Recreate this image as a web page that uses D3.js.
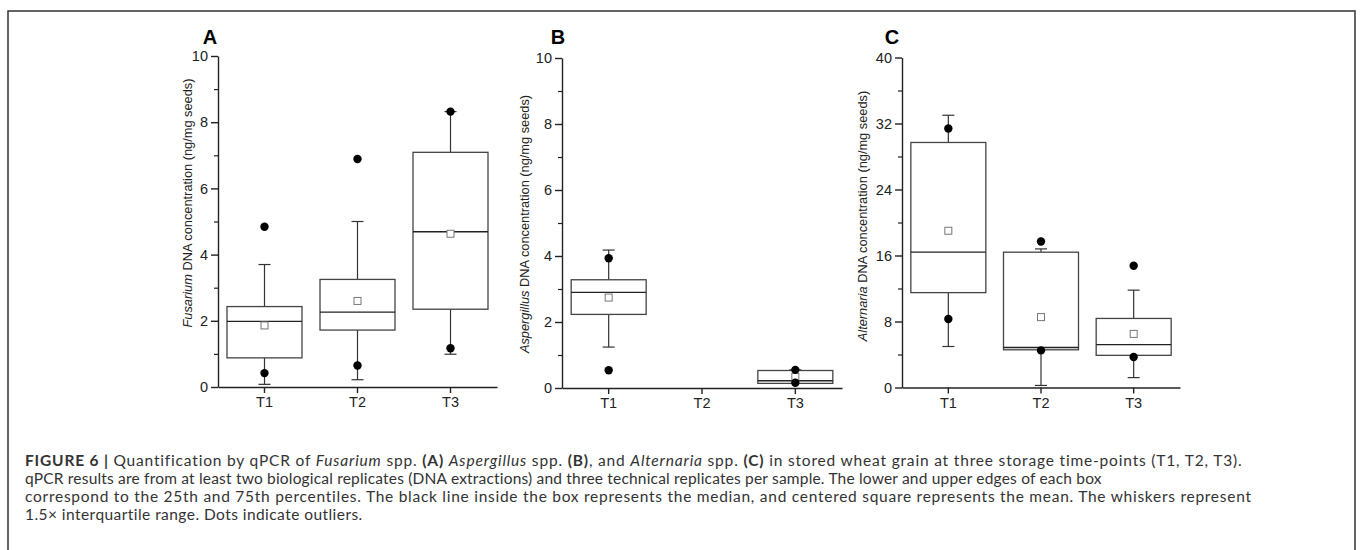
<!DOCTYPE html>
<html>
<head>
<meta charset="utf-8">
<script src="https://cdn.jsdelivr.net/npm/d3@7"></script>
<style>
  body { margin: 0; background: #fff; }
  svg { display: block; }
</style>
</head>
<body>
<svg id="fig" width="1360" height="550"></svg>
<script>
// categories (storage time-points)
const times = ["T1", "T2", "T3"];

// box stats: q1, median, q3, mean, whisker lo/hi, outliers
const fusarium = [
    {t: "T1", q1: 0.88, med: 1.98, q3: 2.43, mean: 1.86, lo: 0.08, hi: 3.70, out: [4.84, 0.42]},
    {t: "T2", q1: 1.72, med: 2.26, q3: 3.25, mean: 2.60, lo: 0.22, hi: 5.00, out: [6.89, 0.65]},
    {t: "T3", q1: 2.35, med: 4.69, q3: 7.09, mean: 4.63, lo: 0.99, hi: 8.32, out: [8.32, 1.17]}
];
const aspergillus = [
    {t: "T1", q1: 2.23, med: 2.90, q3: 3.28, mean: 2.74, lo: 1.24, hi: 4.18, out: [3.93, 0.54]},
    {t: "T3", q1: 0.14, med: 0.22, q3: 0.53, mean: 0.34, lo: 0.14, hi: 0.55, out: [0.55, 0.16]}
];
const alternaria = [
    {t: "T1", q1: 11.5, med: 16.4, q3: 29.7, mean: 19.0, lo: 4.97, hi: 33.0, out: [31.4, 8.3]},
    {t: "T2", q1: 4.57, med: 4.85, q3: 16.4, mean: 8.53, lo: 0.25, hi: 16.8, out: [17.7, 4.5]},
    {t: "T3", q1: 3.90, med: 5.20, q3: 8.37, mean: 6.50, lo: 1.20, hi: 11.8, out: [14.75, 3.7]}
];

const ticksA = [0, 2, 4, 6, 8, 10];
const ticksC = [0, 8, 16, 24, 32, 40];

const captionLines = [
    [["FIGURE 6 | ", "b"], ["Quantification by qPCR of "], ["Fusarium", "i"], [" spp. "], ["(A)", "b"], [" "], ["Aspergillus", "i"], [" spp. "], ["(B)", "b"], [", and "], ["Alternaria", "i"], [" spp. "], ["(C)", "b"], [" in stored wheat grain at three storage time-points (T1, T2, T3)."]],
    [["qPCR results are from at least two biological replicates (DNA extractions) and three technical replicates per sample. The lower and upper edges of each box"]],
    [["correspond to the 25th and 75th percentiles. The black line inside the box represents the median, and centered square represents the mean. The whiskers represent"]],
    [["1.5\u00d7 interquartile range. Dots indicate outliers."]]
];
// right end of each caption line in the reference
const captionEnds = [1243, 1102, 1252, 363];

// layout of the three panels
const panels = [
    {letter: "A", genus: "Fusarium", data: fusarium, ticks: ticksA, x0: 218, x1: 497, yTop: 56, yBot: 387, letterX: 210, titleX: 192, titleY: 203},
    {letter: "B", genus: "Aspergillus", data: aspergillus, ticks: ticksA, x0: 562, x1: 842, yTop: 58, yBot: 388, letterX: 558, titleX: 529, titleY: 224},
    {letter: "C", genus: "Alternaria", data: alternaria, ticks: ticksC, x0: 902, x1: 1180, yTop: 57.5, yBot: 387.5, letterX: 892, titleX: 867, titleY: 216}
];

const sans = "'Liberation Sans', Arial, sans-serif";
const svg = d3.select("#fig");

// outer frame
svg.append("rect")
    .attr("x", 8).attr("y", 11)
    .attr("width", 1347).attr("height", 560)
    .attr("fill", "none")
    .attr("stroke", "#333")
    .attr("stroke-width", 1.5);

function styleAxis(a) {
    a.attr("font-family", sans).attr("font-size", 14.5);
    a.selectAll("text").attr("fill", "#222");
    a.selectAll("line,path").attr("stroke", "#222").attr("stroke-width", 1.4);
}

for(const p of panels) {
    const g = svg.append("g");
    const max = p.ticks[p.ticks.length - 1];
    const step = p.ticks[1] - p.ticks[0];
    const y = d3.scaleLinear().domain([0, max]).range([p.yBot, p.yTop]);
    const x = d3.scaleBand().domain(times).range([p.x0, p.x1]);
    const boxW = 75;
    const capW = 12;

    const minor = p.ticks.slice(0, -1).map(v => v + step / 2);
    g.append("g")
        .attr("transform", `translate(${p.x0},0)`)
        .call(d3.axisLeft(y).tickValues(minor).tickSize(4).tickFormat(""))
        .call(a => a.select(".domain").remove())
        .selectAll("line").attr("stroke", "#222").attr("stroke-width", 1.2);

    g.append("g")
        .attr("transform", `translate(${p.x0},0)`)
        .call(d3.axisLeft(y).tickValues(p.ticks).tickSize(7).tickSizeOuter(0).tickPadding(3))
        .call(styleAxis);

    g.append("g")
        .attr("transform", `translate(0,${p.yBot})`)
        .call(d3.axisBottom(x).tickSize(6).tickSizeOuter(0).tickPadding(4))
        .call(styleAxis);

    // panel letter
    g.append("text")
        .attr("x", p.letterX).attr("y", 44)
        .attr("text-anchor", "middle")
        .attr("font-family", sans)
        .attr("font-weight", "bold")
        .attr("font-size", 20)
        .text(p.letter);

    // y-axis title
    const title = g.append("text")
        .attr("transform", `translate(${p.titleX},${p.titleY}) rotate(-90)`)
        .attr("text-anchor", "middle")
        .attr("font-family", sans)
        .attr("font-size", 12.8)
        .attr("fill", "#222");
    title.append("tspan").attr("font-style", "italic").text(p.genus);
    title.append("tspan").text(" DNA concentration (ng/mg seeds)");

    const box = g.selectAll(".box").data(p.data).enter()
        .append("g").attr("class", "box")
        .attr("transform", d => `translate(${x(d.t) + x.bandwidth() / 2},0)`);

    // whiskers
    box.append("line").attr("x1", 0).attr("x2", 0)
        .attr("y1", d => y(d.q3)).attr("y2", d => y(d.hi));
    box.append("line").attr("x1", 0).attr("x2", 0)
        .attr("y1", d => y(d.q1)).attr("y2", d => y(d.lo));
    box.append("line").attr("x1", -capW / 2).attr("x2", capW / 2)
        .attr("y1", d => y(d.hi)).attr("y2", d => y(d.hi));
    box.append("line").attr("x1", -capW / 2).attr("x2", capW / 2)
        .attr("y1", d => y(d.lo)).attr("y2", d => y(d.lo));
    box.selectAll("line").attr("stroke", "#333").attr("stroke-width", 1.2);

    box.append("rect")
        .attr("x", -boxW / 2).attr("width", boxW)
        .attr("y", d => y(d.q3))
        .attr("height", d => y(d.q1) - y(d.q3))
        .attr("fill", "#fff")
        .attr("stroke", "#444")
        .attr("stroke-width", 1.3);

    box.append("line")
        .attr("x1", -boxW / 2).attr("x2", boxW / 2)
        .attr("y1", d => y(d.med)).attr("y2", d => y(d.med))
        .attr("stroke", "#222").attr("stroke-width", 1.3);

    box.append("rect")
        .attr("x", -3.5).attr("width", 7)
        .attr("y", d => y(d.mean) - 3.5).attr("height", 7)
        .attr("fill", "#fff")
        .attr("stroke", "#777")
        .attr("stroke-width", 1);

    box.selectAll(".out").data(d => d.out).enter()
        .append("circle").attr("class", "out")
        .attr("cx", 0).attr("cy", d => y(d)).attr("r", 4.2)
        .attr("fill", "#000");
}

// caption
const cap = svg.append("g")
    .attr("font-family", "Lato, Roboto, 'Liberation Sans', sans-serif")
    .attr("font-size", 15.5)
    .attr("fill", "#333");
captionLines.forEach((line, i) => {
    const t = cap.append("text").attr("x", 25).attr("y", 466 + i * 18);
    let n = 0;
    for(const [s, f] of line) {
        const ts = t.append("tspan").text(s);
        if(f === "b") ts.attr("font-weight", "bold");
        if(f === "i") ts.attr("font-style", "italic");
        n += s.length;
    }
    // spread letters so each line ends where it does in the reference
    const w = t.node().getComputedTextLength();
    t.attr("letter-spacing", ((captionEnds[i] - 25) - w) / n);
});
</script>
</body>
</html>
